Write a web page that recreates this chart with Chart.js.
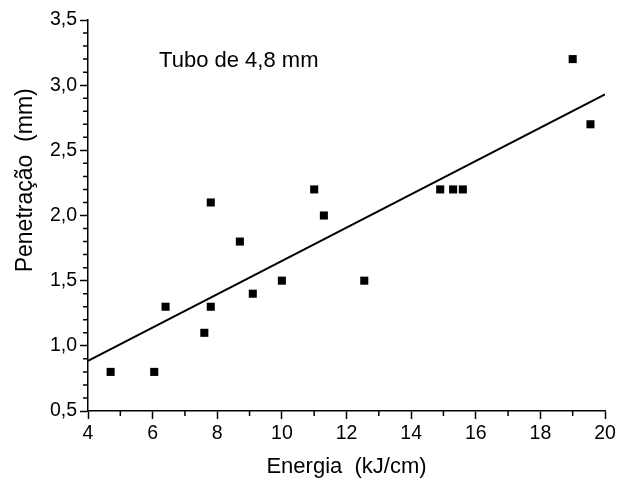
<!DOCTYPE html>
<html>
<head>
<meta charset="utf-8">
<script src="https://cdn.jsdelivr.net/npm/chart.js@4/dist/chart.umd.min.js"></script>
<style>
  html, body { margin: 0; padding: 0; background: #fff; }
  #wrap { width: 627px; height: 483px; }
</style>
</head>
<body>
<div id="wrap"><canvas id="c" width="627" height="483"></canvas></div>
<script>
// Data
const energia = [4.7, 6.05, 6.4, 7.6, 7.8, 7.8, 8.7, 9.1, 10.0, 11.0, 11.3, 12.55, 14.9, 15.3, 15.6, 19.0, 19.55];
const penetracao = [0.8, 0.8, 1.3, 1.1, 1.3, 2.1, 1.8, 1.4, 1.5, 2.2, 2.0, 1.5, 2.2, 2.2, 2.2, 3.2, 2.7];
const fitEnergia = [4, 20];
const fitPenetracao = [0.885, 2.93];
const xTitle = 'Energia  (kJ/cm)';
const yTitle = 'Penetração  (mm)';
const noteText = 'Tubo de 4,8 mm';

const FONT = '"Liberation Sans", Arial, sans-serif';

const whiteBg = {
  id: 'whiteBg',
  beforeDraw(chart) {
    const ctx = chart.ctx;
    ctx.save();
    ctx.fillStyle = '#fff';
    ctx.fillRect(0, 0, chart.width, chart.height);
    ctx.restore();
  }
};

const extras = {
  id: 'extras',
  afterDraw(chart) {
    const ctx = chart.ctx;
    const xs = chart.scales.x, ys = chart.scales.y;
    ctx.save();
    ctx.strokeStyle = '#000';
    ctx.lineWidth = 1.5;
    ctx.beginPath();
    for (let v = 5; v < 20; v += 2) {
      const px = xs.getPixelForValue(v);
      ctx.moveTo(px, xs.top);
      ctx.lineTo(px, xs.top + 5);
    }
    for (let i = 5; i <= 35; i++) {
      if (i % 5 === 0) continue;
      const py = ys.getPixelForValue(i / 10);
      ctx.moveTo(ys.right, py);
      ctx.lineTo(ys.right - 5, py);
    }
    ctx.stroke();
    // annotation
    ctx.fillStyle = '#000';
    ctx.font = '22px ' + FONT;
    ctx.textBaseline = 'middle';
    ctx.textAlign = 'left';
    ctx.fillText(noteText, xs.getPixelForValue(6.2), ys.getPixelForValue(3.185));
    // y axis title (placed above centre, as in the reference)
    ctx.save();
    ctx.translate(ys.left + 32, ys.getPixelForValue(2.27));
    ctx.rotate(-Math.PI / 2);
    ctx.font = '23px ' + FONT;
    ctx.textAlign = 'center';
    ctx.textBaseline = 'alphabetic';
    ctx.fillText(yTitle, 0, 0);
    ctx.restore();
    ctx.restore();
  }
};

const fmt = v => Number(v).toFixed(1).replace('.', ',');

new Chart(document.getElementById('c'), {
  type: 'scatter',
  data: {
    datasets: [
      {
        data: energia.map((x, i) => ({ x, y: penetracao[i] })),
        pointStyle: 'rect',
        pointRadius: 5.7,
        backgroundColor: '#000',
        borderWidth: 0,
        showLine: false
      },
      {
        data: fitEnergia.map((x, i) => ({ x, y: fitPenetracao[i] })),
        showLine: true,
        borderColor: '#000',
        borderWidth: 2,
        pointRadius: 0,
        fill: false
      }
    ]
  },
  options: {
    responsive: false,
    animation: false,
    devicePixelRatio: 1,
    layout: { padding: { left: 0, right: 22, top: 20, bottom: 0 } },
    plugins: { legend: { display: false }, tooltip: { enabled: false } },
    scales: {
      x: {
        type: 'linear',
        min: 4, max: 20,
        border: { display: true, color: '#000', width: 1.5 },
        grid: { display: true, drawOnChartArea: false, drawTicks: true, tickLength: 8, tickColor: '#000', tickWidth: 1.5 },
        ticks: { stepSize: 2, color: '#000', font: { family: FONT, size: 19.5 }, padding: 3, maxRotation: 0 },
        title: { display: true, text: xTitle, color: '#000', font: { family: FONT, size: 22 }, padding: { top: 0, bottom: 3 } },
        afterFit(s) { s.height = 72; }
      },
      y: {
        type: 'linear',
        min: 0.5, max: 3.5,
        border: { display: true, color: '#000', width: 1.5 },
        grid: { display: true, drawOnChartArea: false, drawTicks: true, tickLength: 8, tickColor: '#000', tickWidth: 1.5 },
        ticks: { stepSize: 0.5, color: '#000', font: { family: FONT, size: 19.5 }, padding: 3, callback: v => fmt(v) },
        title: { display: false },
        afterFit(s) { s.width = 88; }
      }
    }
  },
  plugins: [whiteBg, extras]
});
</script>
</body>
</html>
